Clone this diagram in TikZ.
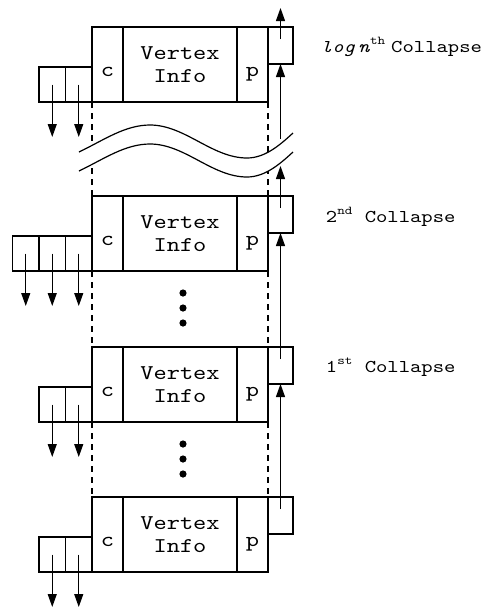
\documentclass[tikz,border=0pt]{standalone}
\usepackage{fontspec}
\usepackage{tikz}
\usetikzlibrary{arrows.meta,calc,positioning}
\newfontfamily\recfont{lmmono10-regular.otf}[FakeStretch=1.2,ItalicFont=lmmono10-italic.otf]

\begin{document}
\begin{tikzpicture}[x=0.5pt,y=-0.5pt,line width=0.6pt,
    every node/.style={align=center,inner sep=0pt,outer sep=0pt},
    cell/.style={draw,minimum height=37.5pt,font=\recfont\fontsize{10.5}{11.7}\selectfont},
    tag/.style={cell,minimum width=15.5pt,text height=11.5pt,text depth=0pt},
    ptr/.style={draw,minimum width=12.5pt,minimum height=18.5pt},
    kid/.style={draw,minimum width=13.25pt,minimum height=17.5pt},
    note/.style={font=\recfont\fontsize{9}{11}\selectfont,anchor=base west},
    link/.style={-{Triangle[length=6.5pt,width=4.5pt]}},
    guide/.style={dash pattern=on 3pt off 2.5pt}]
  \useasboundingbox (0,0) rectangle (484,607);

  % vertex records, one per collapse
  \node[cell,minimum width=57pt] (info1) at (180,64.5) {Vertex\\Info};
  \node[cell,minimum width=57pt,below=47pt of info1] (info2) {Vertex\\Info};
  \node[cell,minimum width=57pt,below=38pt of info2] (info3) {Vertex\\Info};
  \node[cell,minimum width=57pt,below=37.5pt of info3] (info4) {Vertex\\Info};
  \foreach \r in {1,...,4} {
    \node[tag,left=0pt of info\r] (c\r) {c};
    \node[tag,right=0pt of info\r] (p\r) {p};
    \node[ptr,anchor=north west] (q\r) at (p\r.north east) {};
    \node[kid,anchor=south east] (k\r-a) at (c\r.south west) {};
    \node[kid,left=0pt of k\r-a] (k\r-b) {};
  }
  \node[kid,left=0pt of k2-b] (k2-c) {};

  % child pointers
  \foreach \k in {k1-a,k1-b,k2-a,k2-b,k2-c,k3-a,k3-b,k4-a,k4-b} {
    \coordinate[below=17.5pt of \k.south] (\k-end);
    \draw[link] (\k.center) -- (\k-end);
  }

  % dashed guides between records
  \foreach \r/\s in {1/2,2/3,3/4} {
    \draw[guide] (c\r.south west) -- (c\s.north west);
    \draw[guide] (p\r.south east) -- (p\s.north east);
  }

  % break in the stack
  \fill[white] (79,152) .. controls (104,140) and (125,125) .. (150,125)
      .. controls (185,125) and (212,158) .. (247,158)
      .. controls (265,158) and (280,145) .. (293,133)
      -- (293,152) .. controls (280,164) and (265,177) .. (247,177)
      .. controls (212,177) and (185,144) .. (150,144)
      .. controls (125,144) and (104,159) .. (79,171) -- cycle;
  \foreach \dy in {0,-9.5}
    \draw[yshift=\dy pt] (79,152) .. controls (104,140) and (125,125) .. (150,125)
      .. controls (185,125) and (212,158) .. (247,158)
      .. controls (265,158) and (280,145) .. (293,133);

  % parent pointers
  \foreach \r in {1,...,4} \coordinate[below=6pt of q\r.north] (q\r-in);
  \coordinate[above=9.5pt of q1.north] (top);
  \coordinate (brk-up) at (280.5,139);
  \coordinate (brk-dn) at (280.5,166);
  \draw[link] (q1-in) -- (top);
  \draw[link] (brk-up) -- (q1.south);
  \draw[link] (q2-in) -- (brk-dn);
  \draw[link] (q3-in) -- (q2.south);
  \draw[link] (q4-in) -- (q3.south);

  % elided records
  \foreach \r in {2,3} \foreach \d in {11,18.5,26}
    \fill ([xshift=1.5pt,yshift=-\d pt]info\r.south) circle (1.8pt);

  \node[note] (n1) at ([xshift=14pt,yshift=-3.25pt]q1.east) {\textit{log}\kern1.5pt\textit{n}\textsuperscript{th}\kern2.5pt Collapse};
  \node[note] (n2) at ([xshift=16.5pt,yshift=-3.75pt]q2.east) {2\textsuperscript{nd} Collapse};
  \node[note] (n3) at ([xshift=16.5pt,yshift=-3.25pt]q3.east) {1\textsuperscript{st} Collapse};
\end{tikzpicture}
\end{document}
